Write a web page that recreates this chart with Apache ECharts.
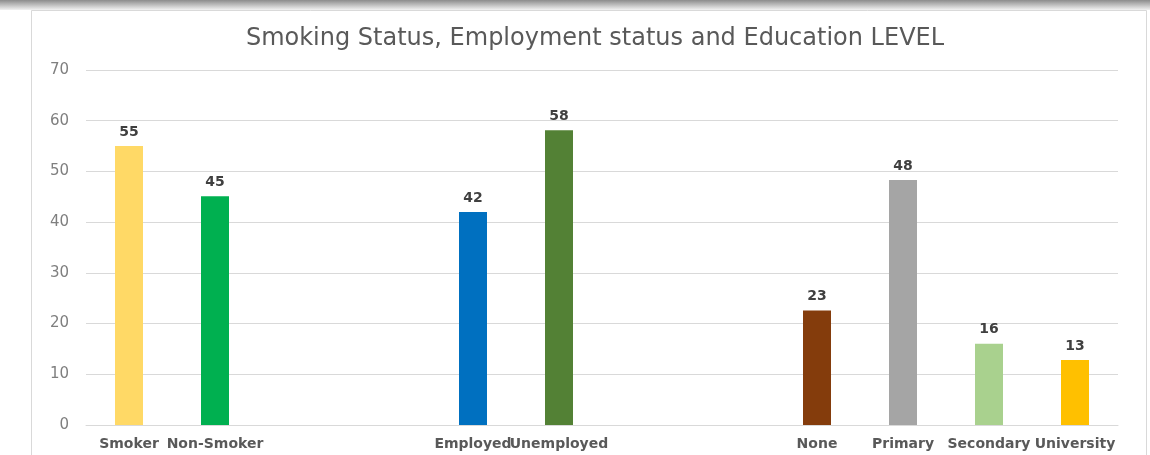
<!DOCTYPE html>
<html>
<head>
<meta charset="utf-8">
<script src="https://cdn.jsdelivr.net/npm/echarts@6/dist/echarts.min.js"></script>
<style>
  html, body { margin: 0; padding: 0; background: #fff; }
  #chart { width: 1150px; height: 455px; }
</style>
</head>
<body>
<div id="chart"></div>
<script>
// categories incl. blank gap slots between the three groups
const categories = ['Smoker', 'Non-Smoker', ' ', '  ', 'Employed', 'Unemployed', '   ', '    ', 'None', 'Primary', 'Secondary', 'University'];
const values = [55, 45.1, null, null, 42, 58.1, null, null, 22.6, 48.3, 16, 12.8];
const barColors = ['#ffd966', '#00b050', null, null, '#0070c0', '#538135', null, null, '#843c0c', '#a5a5a5', '#a9d18e', '#ffc000'];
const yTicks = [0, 10, 20, 30, 40, 50, 60, 70];

const chartDom = document.getElementById('chart');
const myChart = echarts.init(chartDom);

const seriesData = values.map((v, i) => ({
    value: v,
    itemStyle: { color: barColors[i] || '#ccc' }
}));

const option = {
    animation: false,
    backgroundColor: '#fff',
    graphic: [
        // top shadow strip
        {
            type: 'rect',
            shape: { x: 0, y: 0, width: 1150, height: 10 },
            style: {
                fill: new echarts.graphic.LinearGradient(0, 0, 0, 1, [
                    { offset: 0, color: '#8c8c8c' },
                    { offset: 1, color: '#f2f2f2' }
                ])
            },
            z: -10
        },
        // card border
        {
            type: 'rect',
            shape: { x: 31.5, y: 10.5, width: 1115, height: 460 },
            style: { fill: '#fff', stroke: '#d9d9d9', lineWidth: 1 },
            z: -9
        }
    ],
    title: {
        text: 'Smoking Status, Employment status and Education LEVEL',
        left: 590,
        textAlign: 'center',
        top: 22,
        textStyle: {
            fontFamily: 'DejaVu Sans',
            fontSize: 24,
            fontWeight: 'normal',
            color: '#595959'
        }
    },
    grid: {
        left: 86,
        right: 32,
        top: 70,
        bottom: 30,
        containLabel: false
    },
    xAxis: {
        type: 'category',
        data: categories,
        axisLine: { lineStyle: { color: '#d9d9d9', width: 1 } },
        axisTick: { show: false },
        axisLabel: {
            interval: 0,
            margin: 12,
            fontFamily: 'DejaVu Sans',
            fontWeight: 'bold',
            fontSize: 14,
            color: '#595959'
        }
    },
    yAxis: {
        type: 'value',
        min: yTicks[0],
        max: yTicks[yTicks.length - 1],
        interval: 10,
        axisLine: { show: false },
        axisTick: { show: false },
        splitLine: { lineStyle: { color: '#d9d9d9', width: 1 } },
        axisLabel: {
            margin: 17,
            fontFamily: 'DejaVu Sans',
            fontSize: 15,
            color: '#7f7f7f'
        }
    },
    series: [
        {
            type: 'bar',
            data: seriesData,
            barWidth: 28,
            label: {
                show: true,
                position: 'top',
                distance: 7,
                fontFamily: 'DejaVu Sans',
                fontWeight: 'bold',
                fontSize: 14,
                color: '#404040',
                formatter: (p) => Math.round(p.value)
            }
        }
    ]
};

myChart.setOption(option);
</script>
</body>
</html>
